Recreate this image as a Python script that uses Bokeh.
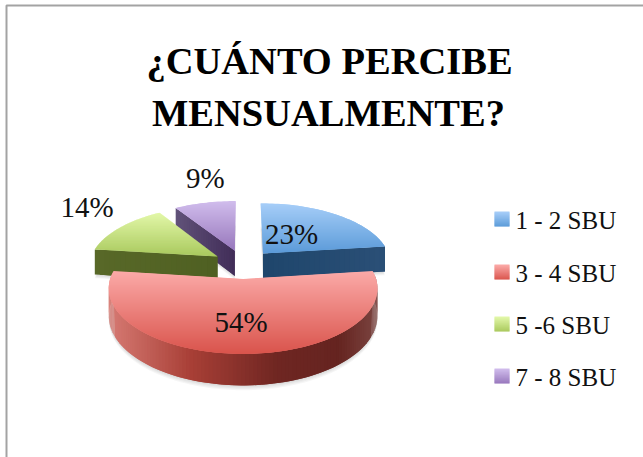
import math
from bokeh.plotting import figure
from bokeh.models import Range1d
from bokeh.core.properties import value
from bokeh.embed import file_html
from bokeh.resources import INLINE

# ---- data ----
title_lines = ["¿CUÁNTO PERCIBE", "MENSUALMENTE?"]
categories = ["1 - 2 SBU", "3 - 4 SBU", "5 -6 SBU", "7 - 8 SBU"]
values = [23, 54, 14, 9]
labels = ["23%", "54%", "14%", "9%"]

# ---- styling ----
top_colors = [("#a6cdf8", "#5a9ad8"), ("#fba9a7", "#d9534b"), ("#e2f7a8", "#a8c85c"), ("#d0bcec", "#9676bb")]
face_colors = [("#1f466c", "#2a4f76"), None, ("#586828", "#4f6022"), ("#615279", "#422e59")]
wall_stops = [(0.0, "#d67a73"), (0.3, "#a83f36"), (0.62, "#6f2622"), (0.85, "#652420"), (1.0, "#7c4642")]
FONT = "Liberation Serif"
W, H = 643, 457
CX, CY, A, B, DIST, DEPTH, EXPLODE = 242.6, 263.6, 128.5, 60.0, 7.2, 26.0, 0.24
label_r = [0.42, 0.64, 1.3, 1.3]
label_nudge = [(-4, -2), (-2, -2), (-6, -13), (8, -12)]
label_size = "29px"


def proj(X, Z, h=0.0):
    s = DIST / (DIST + Z)
    return CX + A * X * s, CY - B * Z * s + DEPTH * s * h


def hex2rgb(c):
    return tuple(int(c[i:i + 2], 16) for i in (1, 3, 5))


def mix(c0, c1, t):
    a, b = hex2rgb(c0), hex2rgb(c1)
    t = max(0.0, min(1.0, t))
    return "#%02x%02x%02x" % tuple(round(a[i] + (b[i] - a[i]) * t) for i in range(3))


def ramp(stops, t):
    for (t0, c0), (t1, c1) in zip(stops, stops[1:]):
        if t <= t1:
            return mix(c0, c1, (t - t0) / (t1 - t0))
    return stops[-1][1]


def clip_band(poly, y0, y1):
    def clip(pts, keep, cross):
        out = []
        for i, p in enumerate(pts):
            q = pts[(i + 1) % len(pts)]
            if keep(p):
                out.append(p)
            if keep(p) != keep(q):
                out.append(cross(p, q))
        return out

    def at(yv):
        return lambda p, q: (p[0] + (q[0] - p[0]) * (yv - p[1]) / (q[1] - p[1]), yv)

    r = clip(poly, lambda p: p[1] >= y0, at(y0))
    if r:
        r = clip(r, lambda p: p[1] <= y1, at(y1))
    return r


xs_all, ys_all, cols_all = [], [], []


def add(poly, col):
    xs_all.append([p[0] for p in poly])
    ys_all.append([p[1] for p in poly])
    cols_all.append(col)


def gradient_fill(poly, c0, c1, step=1.0):
    ymin, ymax = min(p[1] for p in poly), max(p[1] for p in poly)
    y = ymin
    while y < ymax:
        band = clip_band(poly, y, y + step + 0.7)
        if len(band) >= 3:
            add(band, mix(c0, c1, (y - ymin) / (ymax - ymin)))
        y += step


p = figure(width=W, height=H, x_range=Range1d(0, W), y_range=Range1d(H, 0),
           output_backend="svg", toolbar_location=None, x_axis_type=None, y_axis_type=None,
           min_border=0, outline_line_color=None, background_fill_color="white",
           border_fill_color="white")
p.grid.visible = False
p.styles = {"position": "absolute", "left": "0px", "top": "0px"}

# frame of the picture
p.line([6, 6, W], [H, 5, 5], line_color="#a3a3a3", line_width=2)

total = sum(values)
bounds, acc = [], 0.0
for v in values:
    bounds.append((acc / total * 2 * math.pi, (acc + v) / total * 2 * math.pi))
    acc += v

geo = []
for a0, a1 in bounds:
    mid = (a0 + a1) / 2
    ox, oz = EXPLODE * math.sin(mid), EXPLODE * math.cos(mid)
    n = max(6, int((a1 - a0) / math.radians(1.5)))
    arc = [(ox + math.sin(a0 + (a1 - a0) * i / n), oz + math.cos(a0 + (a1 - a0) * i / n)) for i in range(n + 1)]
    geo.append((ox, oz, arc, a0, a1))

# soft shadows under the slices
shx, shy = [], []
for ox, oz, arc, a0, a1 in geo:
    for k in (1, 2, 3, 4):
        pts = [proj(ox, oz, 1 + k / DEPTH)] + [proj(X, Z, 1 + k / DEPTH) for X, Z in arc]
        shx.append([q[0] for q in pts])
        shy.append([q[1] for q in pts])
p.patches(shx, shy, fill_color="#000000", fill_alpha=0.035, line_color=None)

# slices, back to front; strips overlap their neighbour so no seams show
for idx in [3, 2, 0, 1]:
    ox, oz, arc, a0, a1 = geo[idx]
    # radial cut faces turned towards the viewer
    for ang, nz, end in ((a1, -math.sin(a1), arc[-1]), (a0, math.sin(a0), arc[0])):
        if nz < -0.2 and face_colors[idx]:
            m = 24
            c0, c1 = face_colors[idx]
            pts = [(ox + (end[0] - ox) * i / m, oz + (end[1] - oz) * i / m) for i in range(m + 1)]
            if proj(*pts[0])[0] > proj(*pts[-1])[0]:
                pts.reverse()
            for i in range(m):
                q0, q1 = pts[i], pts[min(i + 2, m)]
                add([proj(*q0), proj(*q1), proj(*q1, 1), proj(*q0, 1)], mix(c0, c1, i / (m - 1)))
    # outer wall
    xmin = min(proj(X, Z)[0] for X, Z in arc)
    xmax = max(proj(X, Z)[0] for X, Z in arc)
    ordered = sorted(arc, key=lambda q: proj(*q)[0])
    for i in range(len(ordered) - 1):
        q0, q1 = ordered[i], ordered[min(i + 2, len(ordered) - 1)]
        if (q0[1] - oz) < 0.05 or (q1[1] - oz) < 0.05:
            t = (proj(*q0)[0] - xmin) / max(1.0, xmax - xmin)
            add([proj(*q0), proj(*q1), proj(*q1, 1), proj(*q0, 1)], ramp(wall_stops, t))
    # top surface
    top = [proj(ox, oz)] + [proj(X, Z) for X, Z in arc]
    gradient_fill(top, *top_colors[idx])

# legend swatches
leg_x0, leg_x1 = 494, 509
leg_y = [211, 264, 316, 368]
for (c0, c1), y in zip(top_colors, leg_y):
    gradient_fill([(leg_x0, y), (leg_x1, y), (leg_x1, y + 15), (leg_x0, y + 15)], c0, c1)

p.patches(xs_all, ys_all, fill_color=cols_all, line_color=None)

# data labels
lx, ly = [], []
for idx, (ox, oz, arc, a0, a1) in enumerate(geo):
    mid = (a0 + a1) / 2
    X = ox + label_r[idx] * math.sin(mid)
    Z = oz + label_r[idx] * math.cos(mid)
    px, py = proj(X, Z)
    lx.append(px + label_nudge[idx][0])
    ly.append(py + label_nudge[idx][1])
p.text(lx, ly, text=labels, text_font=value(FONT), text_font_size=label_size,
       text_align="center", text_baseline="middle", text_color="#111111")

# legend texts
p.text([515] * 4, [y + 9 for y in leg_y], text=categories, text_font=value(FONT),
       text_font_size="25px", text_align="left", text_baseline="middle", text_color="#111111")

# title
p.text([329, 328], [60, 112], text=title_lines, text_font=value(FONT),
       text_font_size="38.5px", text_font_style="bold", text_align="center", text_baseline="middle",
       text_color="#000000")

open("out.html", "w").write(file_html(p, INLINE))
